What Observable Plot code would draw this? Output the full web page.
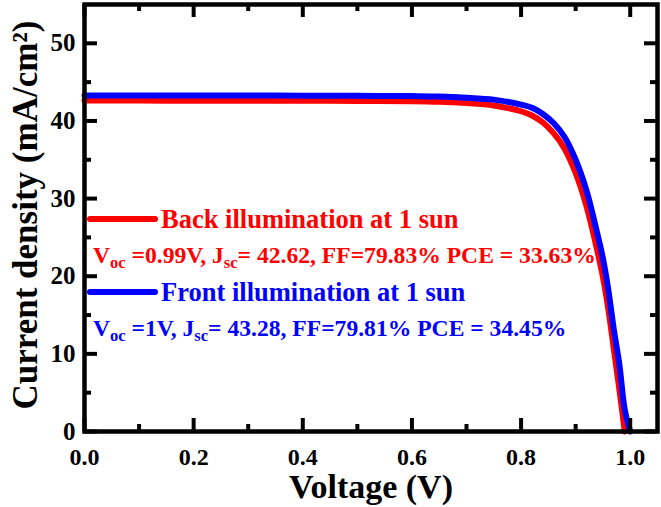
<!DOCTYPE html>
<html><head><meta charset="utf-8">
<script src="https://cdn.jsdelivr.net/npm/d3@7"></script>
<script src="https://cdn.jsdelivr.net/npm/@observablehq/plot@0.6"></script>
<style>body{margin:0;background:#fff}#chart svg{display:block}</style>
</head><body><div id="chart"></div>
<script>
// ---- data ----
const frontVoltage = [0, 0.1, 0.2, 0.3, 0.4, 0.5, 0.6, 0.65, 0.7, 0.75, 0.78, 0.8, 0.82, 0.84, 0.86, 0.88, 0.9, 0.92, 0.94, 0.95, 0.96, 0.97, 0.98, 0.99, 1.0];
const frontJ = [43.28, 43.28, 43.27, 43.27, 43.26, 43.24, 43.2, 43.15, 43.0, 42.75, 42.4, 42.1, 41.7, 40.9, 39.7, 37.9, 35.0, 31.0, 25.4, 22.3, 18.2, 13.1, 8.7, 2.8, 0];
const backVoltage = [0, 0.1, 0.2, 0.3, 0.4, 0.5, 0.6, 0.65, 0.7, 0.75, 0.78, 0.8, 0.82, 0.84, 0.86, 0.88, 0.9, 0.92, 0.94, 0.95, 0.96, 0.97, 0.98, 0.99];
const backJ = [42.62, 42.62, 42.61, 42.61, 42.6, 42.58, 42.55, 42.48, 42.3, 42.0, 41.6, 41.25, 40.7, 39.8, 38.4, 36.4, 33.3, 29.0, 23.2, 19.9, 15.7, 10.6, 5.5, 0];
const seriesNames = ["Back illumination at 1 sun", "Front illumination at 1 sun"];
const seriesColors = ["#ff0000", "#0000ff"];
const vocValues = ["0.99", "1"];
const jscValues = ["42.62", "43.28"];
const ffValues = ["79.83", "79.81"];
const pceValues = ["33.63", "34.45"];
const xMajorTicks = [0, 0.2, 0.4, 0.6, 0.8, 1.0];
const xMinorTicks = [0.1, 0.3, 0.5, 0.7, 0.9];
const yMajorTicks = [0, 10, 20, 30, 40, 50];
const yMinorTicks = [5, 15, 25, 35, 45];
const xTitle = "Voltage (V)";
const yTitle = "Current density (mA/cm²)";

// ---- build table ----
const rows = [
  ...backVoltage.map((v, i) => ({series: seriesNames[0], V: v, J: backJ[i]})),
  ...frontVoltage.map((v, i) => ({series: seriesNames[1], V: v, J: frontJ[i]}))
];

const FONT = '"Liberation Serif", "Times New Roman", serif';
const W = 661, H = 507, mT = 4, mR = 4, mB = 76, mL = 84;
const innerH = H - mT - mB, innerW = W - mL - mR;
const majorLen = 13, minorLen = 7, tickW = 4;

function legendMark(index, scales, values, dims) {
  const g = d3.create("svg:g").attr("font-family", FONT).attr("font-weight", "bold").attr("text-anchor", "start");
  seriesNames.forEach((name, i) => {
    const y0 = mT + 215 + i * 73;
    const c = seriesColors[i];
    g.append("line").attr("x1", mL + 6).attr("x2", mL + 71).attr("y1", y0).attr("y2", y0)
      .attr("stroke", c).attr("stroke-width", 6).attr("stroke-linecap", "round");
    g.append("text").attr("x", mL + 77).attr("y", y0 + 9).attr("fill", c).attr("font-size", 26.5).text(name);
    const t = g.append("text").attr("x", mL + 9).attr("y", y0 + 44).attr("fill", c).attr("font-size", 23.6);
    const sub = 16.5, sh = 5;
    t.append("tspan").text("V");
    t.append("tspan").attr("font-size", sub).attr("dy", sh).text("oc");
    t.append("tspan").attr("dy", -sh).text(` =${vocValues[i]}V, J`);
    t.append("tspan").attr("font-size", sub).attr("dy", sh).text("sc");
    t.append("tspan").attr("dy", -sh).text(`= ${jscValues[i]}, FF=${ffValues[i]}% PCE = ${pceValues[i]}%`);
  });
  return g.node();
}

const chart = Plot.plot({
  width: W, height: H,
  marginTop: mT, marginRight: mR, marginBottom: mB, marginLeft: mL,
  style: {fontFamily: FONT, background: "#fff", color: "#000"},
  x: {domain: [0, 1.05]},
  y: {domain: [0, 55]},
  color: {domain: seriesNames, range: seriesColors},
  marks: [
    Plot.line(rows, {x: "V", y: "J", z: "series", stroke: "series", strokeWidth: 6, curve: "catmull-rom"}),
    // inward ticks on all four sides
    Plot.tickX(xMajorTicks, {x: d => d, insetTop: innerH - majorLen, strokeWidth: tickW}),
    Plot.tickX(xMinorTicks, {x: d => d, insetTop: innerH - minorLen, strokeWidth: tickW}),
    Plot.tickX(xMajorTicks, {x: d => d, insetBottom: innerH - majorLen, strokeWidth: tickW}),
    Plot.tickX(xMinorTicks, {x: d => d, insetBottom: innerH - minorLen, strokeWidth: tickW}),
    Plot.tickY(yMajorTicks, {y: d => d, insetRight: innerW - majorLen, strokeWidth: tickW}),
    Plot.tickY(yMinorTicks, {y: d => d, insetRight: innerW - minorLen, strokeWidth: tickW}),
    Plot.tickY(yMajorTicks, {y: d => d, insetLeft: innerW - majorLen, strokeWidth: tickW}),
    Plot.tickY(yMinorTicks, {y: d => d, insetLeft: innerW - minorLen, strokeWidth: tickW}),
    Plot.frame({stroke: "#000", strokeWidth: 4.5}),
    Plot.axisX(xMajorTicks, {tickSize: 0, tickPadding: 16, tickFormat: d3.format(".1f"), fontSize: 24, fontWeight: "bold", label: null}),
    Plot.axisY(yMajorTicks, {tickSize: 0, tickPadding: 9, tickFormat: d3.format("d"), fontSize: 25, fontWeight: "bold", label: null}),
    Plot.text([xTitle], {text: d => d, frameAnchor: "bottom", dy: 66, lineAnchor: "bottom", fontSize: 34, fontWeight: "bold"}),
    Plot.text([yTitle], {text: d => d, frameAnchor: "left", dx: -48, dy: -3, rotate: -90, textAnchor: "middle", lineAnchor: "bottom", fontSize: 35, fontWeight: "bold"}),
    legendMark
  ]
});
document.getElementById("chart").appendChild(chart);
</script>
</body></html>
